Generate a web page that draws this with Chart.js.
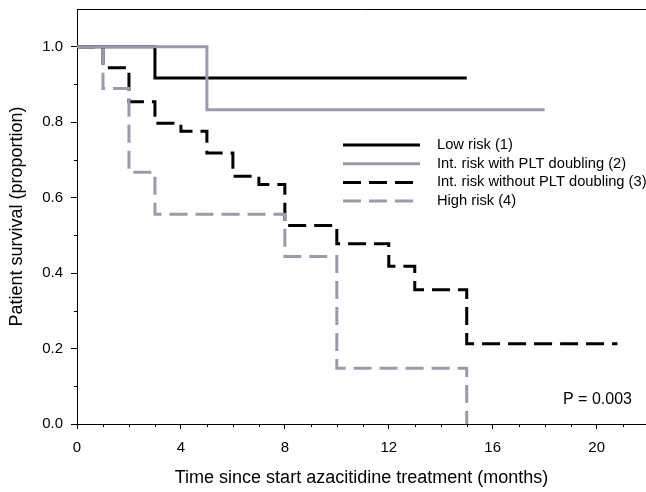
<!DOCTYPE html>
<html><head><meta charset="utf-8">
<script src="https://cdn.jsdelivr.net/npm/chart.js@4.4.1/dist/chart.umd.min.js"></script>
<style>html,body{margin:0;padding:0;background:#fff;overflow:hidden}#wrap{width:646px;height:492px}</style>
</head><body><div id="wrap"><canvas id="c" width="646" height="492"></canvas></div>
<script>
// ---- data ----
const seriesLabels = ['Low risk (1)', 'Int. risk with PLT doubling (2)', 'Int. risk without PLT doubling (3)', 'High risk (4)'];
const lowRiskTimes = [0, 3, 15];
const lowRiskSurvival = [1.0, 0.917, 0.917];
const intPltTimes = [0, 5, 18];
const intPltSurvival = [1.0, 0.833, 0.833];
const intNoPltTimes = [0, 1, 2, 3, 4, 5, 6, 7, 8, 10, 12, 13, 15, 20.8];
const intNoPltSurvival = [1.0, 0.944, 0.854, 0.797, 0.776, 0.718, 0.657, 0.635, 0.526, 0.478, 0.418, 0.356, 0.213, 0.213];
const highRiskTimes = [0, 1, 2, 3, 8, 10, 15];
const highRiskSurvival = [1.0, 0.889, 0.667, 0.556, 0.444, 0.148, 0.0];
const xTickValues = [0, 4, 8, 12, 16, 20];
const yTickValues = [0, 0.2, 0.4, 0.6, 0.8, 1.0];
const xMinorTickValues = [1, 2, 3, 5, 6, 7, 9, 10, 11, 13, 14, 15, 17, 18, 19, 21];
const yMinorTickValues = [0.1, 0.3, 0.5, 0.7, 0.9];
const xTitle = 'Time since start azacitidine treatment (months)';
const yTitle = 'Patient survival (proportion)';
const pValueText = 'P = 0.003';

// ---- styling ----
const FONT = '"Liberation Sans", Arial, sans-serif';
const BLACK = '#000000';
const GRAY = '#9a9aae';
const DASH = [18, 8];

function toPoints(t, s) { return t.map((x, i) => ({ x: x, y: s[i] })); }

const datasets = [
  { label: seriesLabels[0], data: toPoints(lowRiskTimes, lowRiskSurvival), borderColor: BLACK, borderDash: [], order: 1 },
  { label: seriesLabels[1], data: toPoints(intPltTimes, intPltSurvival), borderColor: GRAY, borderDash: [], order: 0 },
  { label: seriesLabels[2], data: toPoints(intNoPltTimes, intNoPltSurvival), borderColor: BLACK, borderDash: DASH, order: 3 },
  { label: seriesLabels[3], data: toPoints(highRiskTimes, highRiskSurvival), borderColor: GRAY, borderDash: DASH, order: 2 }
].map(d => Object.assign(d, { stepped: 'before', borderWidth: 3, pointRadius: 0, fill: false, tension: 0, borderCapStyle: 'butt', borderJoinStyle: 'miter' }));

const decorPlugin = {
  id: 'decor',
  afterDraw(chart) {
    const ctx = chart.ctx, a = chart.chartArea;
    const xs = chart.scales.x, ys = chart.scales.y;
    ctx.save();
    // top frame line
    ctx.strokeStyle = BLACK; ctx.lineWidth = 1;
    ctx.beginPath(); ctx.moveTo(a.left, Math.round(a.top) + 0.5); ctx.lineTo(a.right, Math.round(a.top) + 0.5); ctx.stroke();
    // minor ticks
    ctx.beginPath();
    xMinorTickValues.forEach(v => { const px = Math.round(xs.getPixelForValue(v)) + 0.5; ctx.moveTo(px, a.bottom); ctx.lineTo(px, a.bottom + 3); });
    yMinorTickValues.forEach(v => { const py = Math.round(ys.getPixelForValue(v)) + 0.5; ctx.moveTo(a.left - 3, py); ctx.lineTo(a.left, py); });
    ctx.stroke();
    // legend
    const lx0 = 343, lx1 = 420, tx = 437, ry0 = 145, rdy = 18.7;
    ctx.font = '14.7px ' + FONT; ctx.textBaseline = 'middle'; ctx.textAlign = 'left';
    chart.data.datasets.forEach((d, i) => {
      const y = ry0 + i * rdy;
      ctx.strokeStyle = d.borderColor; ctx.lineWidth = 3; ctx.setLineDash(d.borderDash); ctx.lineCap = 'butt';
      ctx.beginPath(); ctx.moveTo(lx0, y); ctx.lineTo(lx1, y); ctx.stroke();
      ctx.setLineDash([]);
      ctx.fillStyle = BLACK; ctx.fillText(d.label, tx, y);
    });
    // p value
    ctx.font = '16px ' + FONT; ctx.textAlign = 'left';
    ctx.fillText(pValueText, 563, 400);
    ctx.restore();
  }
};

new Chart(document.getElementById('c'), {
  type: 'line',
  data: { datasets: datasets },
  plugins: [decorPlugin],
  options: {
    responsive: false, animation: false, devicePixelRatio: 1,
    layout: { padding: { top: 9, left: 0, right: 0, bottom: 0 } },
    plugins: { legend: { display: false }, tooltip: { enabled: false } },
    scales: {
      x: {
        type: 'linear', min: 0, max: 21.9,
        afterBuildTicks: s => { s.ticks = xTickValues.map(v => ({ value: v })); },
        afterFit: s => { s.height = 68; s.paddingLeft = 0; s.paddingRight = 0; },
        grid: { drawOnChartArea: false, drawTicks: true, tickLength: 5, color: BLACK, lineWidth: 1 },
        border: { display: true, color: BLACK, width: 1 },
        ticks: { color: BLACK, font: { family: FONT, size: 15 }, padding: 10, maxRotation: 0, autoSkip: false, callback: v => String(v) },
        title: { display: true, text: xTitle, color: BLACK, font: { family: FONT, size: 18 }, padding: { top: 0, bottom: 3 } }
      },
      y: {
        type: 'linear', min: 0, max: 1.1,
        afterBuildTicks: s => { s.ticks = yTickValues.map(v => ({ value: v })); },
        afterFit: s => { s.width = 77; s.paddingTop = 0; s.paddingBottom = 0; },
        grid: { drawOnChartArea: false, drawTicks: true, tickLength: 6, color: BLACK, lineWidth: 1 },
        border: { display: true, color: BLACK, width: 1 },
        ticks: { color: BLACK, font: { family: FONT, size: 15 }, padding: 8, autoSkip: false, callback: v => v.toFixed(1) },
        title: { display: true, text: yTitle, color: BLACK, font: { family: FONT, size: 18 }, padding: { top: 6, bottom: 0 } }
      }
    }
  }
});
</script>
</body></html>
